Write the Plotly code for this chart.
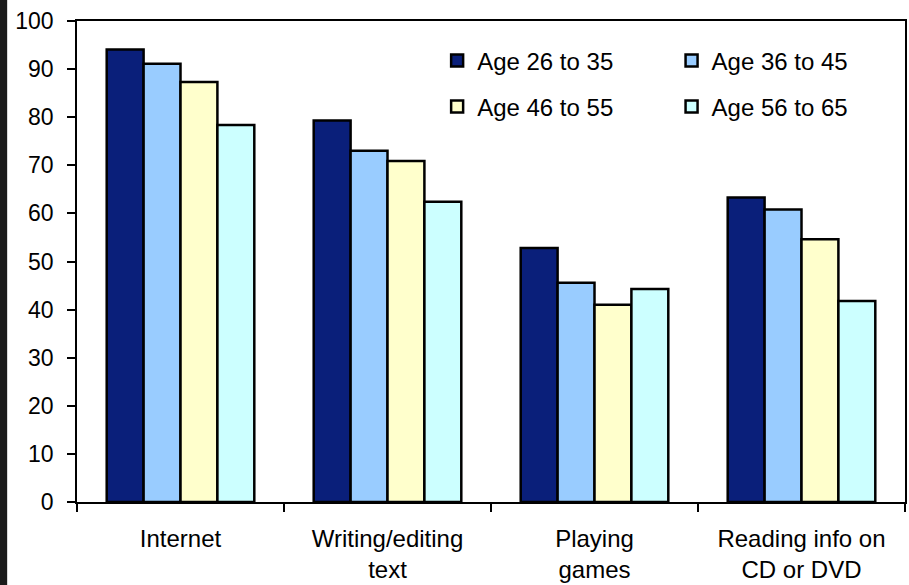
import plotly.graph_objects as go

categories = ["Internet", "Writing/editing<br>text", "Playing<br>games", "Reading info on<br>CD or DVD"]
series_names = ["Age 26 to 35", "Age 36 to 45", "Age 46 to 55", "Age 56 to 65"]
age_26_35 = [94.1, 79.3, 52.8, 63.3]
age_36_45 = [91.1, 73.0, 45.6, 60.8]
age_46_55 = [87.3, 70.9, 41.0, 54.6]
age_56_65 = [78.4, 62.4, 44.3, 41.8]
y_ticks = [0, 10, 20, 30, 40, 50, 60, 70, 80, 90, 100]

colors = ["#0a1f7a", "#99ccff", "#ffffcc", "#ccffff"]
values = [age_26_35, age_36_45, age_46_55, age_56_65]
legend_ids = ["legend", "legend2", "legend3", "legend4"]

FONT = "Liberation Sans, Arial, sans-serif"

fig = go.Figure()
for name, vals, col, lg in zip(series_names, values, colors, legend_ids):
    fig.add_trace(go.Bar(
        x=categories, y=vals, name=name, legend=lg,
        marker=dict(color=col, line=dict(color="black", width=2.5)),
    ))

W, H = 909, 585
ml, mr, mt, mb = 77, 2, 21, 83
pw, ph = W - ml - mr, H - mt - mb

def px_x(p):
    return (p - ml) / pw

def px_y(p):
    return (H - mb - p) / ph

leg_common = dict(orientation="h", bgcolor="rgba(0,0,0,0)", borderwidth=0,
                  font=dict(family=FONT, size=24, color="black"),
                  xanchor="left", yanchor="middle", itemwidth=30)
col_x = [438, 673]
row_y = [61, 107]
pos = [(0, 0), (1, 0), (0, 1), (1, 1)]
legends = {}
for lg, (c, r) in zip(legend_ids, pos):
    legends[lg] = dict(leg_common, x=px_x(col_x[c]), y=px_y(row_y[r]))

fig.update_layout(
    width=W, height=H,
    margin=dict(l=ml, r=mr, t=mt, b=mb, pad=0),
    paper_bgcolor="white", plot_bgcolor="white",
    bargap=0.287, bargroupgap=0,
    font=dict(family=FONT, size=23, color="black"),
    showlegend=True,
    **legends,
)
fig.update_xaxes(
    type="category", showline=True, linecolor="black", linewidth=1.5, mirror=True,
    ticks="outside", tickson="boundaries", ticklen=8, tickcolor="black", tickwidth=1.5,
    showgrid=False, tickfont=dict(family=FONT, size=24, color="black"),
    ticklabelstandoff=14,
)
fig.update_yaxes(
    range=[0, 100], tickvals=y_ticks, showline=True, linecolor="black", linewidth=1.5,
    mirror=True, ticks="outside", ticklen=8, tickcolor="black", tickwidth=1.5,
    showgrid=False, zeroline=False, tickfont=dict(family=FONT, size=23, color="black"),
    ticklabelstandoff=9,
)
# dark strip at the left edge of the screenshot
fig.add_shape(type="rect", xref="paper", yref="paper",
              x0=px_x(-2), x1=px_x(7), y0=px_y(H + 2), y1=px_y(-2),
              fillcolor="#1b1b1b", line=dict(width=0), layer="above")

fig.write_html("out.html")
